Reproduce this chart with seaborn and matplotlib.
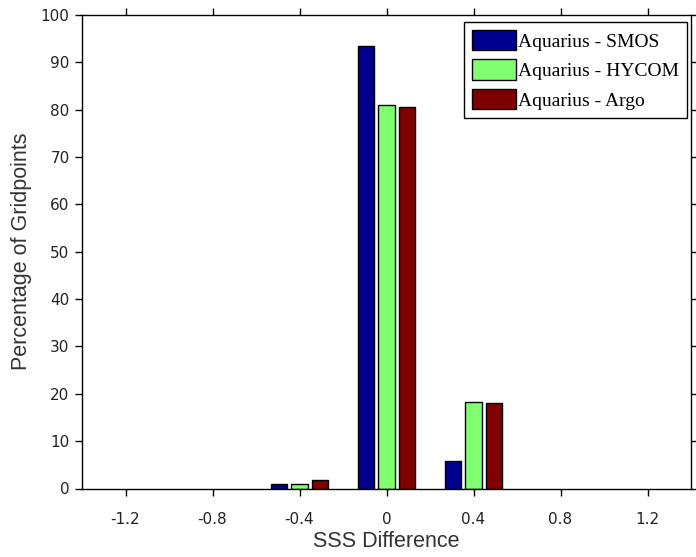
import matplotlib
matplotlib.use("Agg")
import matplotlib.pyplot as plt
import seaborn as sns
import pandas as pd

# Histogram bins of SSS difference and percentage of gridpoints per comparison
bins = [-1.2, -0.8, -0.4, 0.0, 0.4, 0.8, 1.2]
smos = [0.0, 0.0, 0.9, 93.4, 5.9, 0.0, 0.0]
hycom = [0.0, 0.0, 0.9, 81.0, 18.2, 0.0, 0.0]
argo = [0.0, 0.0, 1.9, 80.5, 18.0, 0.0, 0.0]
series_names = ["Aquarius - SMOS", "Aquarius - HYCOM", "Aquarius - Argo"]
series_colors = ["#00008f", "#80ff70", "#800000"]
xticks = [-1.2, -0.8, -0.4, 0, 0.4, 0.8, 1.2]
xtick_labels = ["-1.2", "-0.8", "-0.4", "0", "0.4", "0.8", "1.2"]
yticks = list(range(0, 101, 10))

rows = []
for name, vals in zip(series_names, [smos, hycom, argo]):
    for b, v in zip(bins, vals):
        rows.append({"bin": b, "pct": v, "series": name})
df = pd.DataFrame(rows)

sns.set_theme(style="white")
plt.rcParams["font.family"] = ["DejaVu Sans"]

fig = plt.figure(figsize=(6.96, 5.57), dpi=100)
ax = fig.add_axes([82 / 696, 1 - 488.5 / 557, (691 - 82) / 696, (488.5 - 15) / 557])

sns.barplot(
    data=df, x="bin", y="pct", hue="series", hue_order=series_names,
    palette=series_colors, native_scale=True, width=0.69, gap=0.2,
    edgecolor="black", linewidth=1.0, saturation=1, errorbar=None, ax=ax,
)

ax.set_xlim(-1.4, 1.4)
ax.set_ylim(0, 100)
ax.set_xticks(xticks)
ax.set_xticklabels(xtick_labels)
ax.set_yticks(yticks)

for s in ax.spines.values():
    s.set_color("black")
    s.set_linewidth(1.0)

ax.tick_params(axis="both", which="both", direction="out", length=5, width=1,
               color="black", labelsize=11, labelcolor="#222222",
               top=True, right=True, bottom=True, left=True)
ax.tick_params(axis="x", pad=12)
ax.tick_params(axis="y", pad=4)

ax.set_xlabel("SSS Difference", fontsize=15.5, family=["Liberation Sans"],
              color="#333333", labelpad=3)
ax.set_ylabel("Percentage of Gridpoints", fontsize=15.5, family=["Liberation Sans"],
              color="#333333", labelpad=6)

leg = ax.legend(
    loc="upper right", bbox_to_anchor=(1 - 4 / 609, 1 - 7 / 473.5),
    prop={"family": "Liberation Serif", "size": 14},
    frameon=True, fancybox=False, edgecolor="black", framealpha=1,
    handlelength=2.3, handleheight=1.25, handletextpad=0.1,
    labelspacing=0.45, borderpad=0.4, borderaxespad=0.0,
)
leg.get_frame().set_linewidth(1.0)
for t in leg.get_texts():
    t.set_color("black")
for h in leg.legend_handles:
    h.set_edgecolor("black")
    h.set_linewidth(1.0)

# empty bins leave no outline on the baseline
for p in ax.patches:
    if p.get_height() == 0:
        p.set_linewidth(0)

fig.savefig("out.png", dpi=100, facecolor="white")
